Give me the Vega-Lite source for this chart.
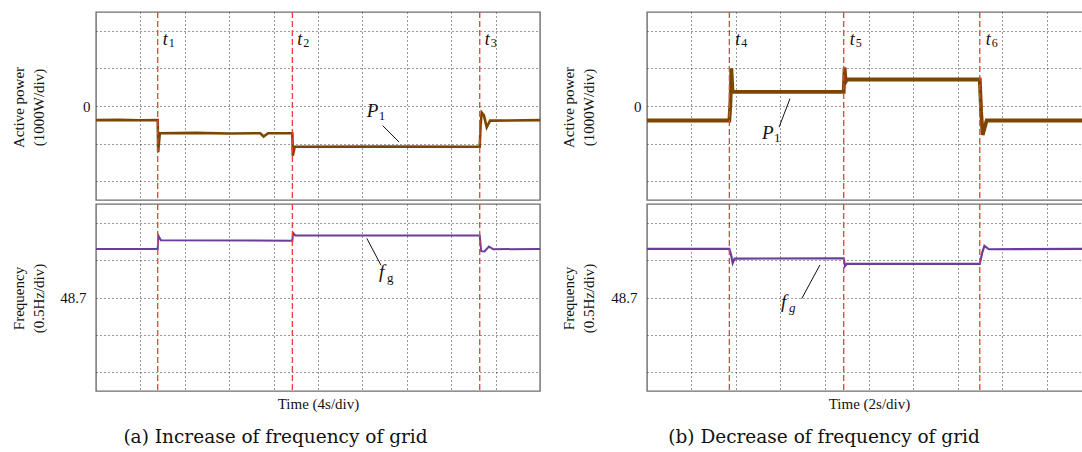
{
"$schema":"https://vega.github.io/schema/vega-lite/v6.json",
"padding":{"left":10,"top":10,"right":0,"bottom":0},
"background":"white",
"spacing":19,
"config":{
  "view":{"stroke":"#6d6d6d","strokeWidth":1.4},
  "font":"Liberation Serif",
  "axis":{"domain":false,"ticks":false,"grid":true,"gridColor":"#333333","gridDash":[1,3],"gridWidth":1,"labelFont":"Liberation Serif","labelFontSize":15,"labelColor":"#111111","titleFont":"Liberation Serif","titleFontSize":15,"titleFontWeight":"normal","titleColor":"#111111"},
  "title":{"font":"DejaVu Serif","fontSize":18.5,"fontWeight":"normal","color":"#111111"},
  "text":{"font":"Liberation Serif","color":"#111111"}
},
"datasets":{
  "pL":[{"t":0,"p":-750},{"t":2,"p":-740},{"t":4,"p":-760},{"t":5.56,"p":-750},{"t":5.6,"p":-2450},{"t":5.75,"p":-1450},{"t":9,"p":-1430},{"t":12,"p":-1460},{"t":14.8,"p":-1450},{"t":15.1,"p":-1620},{"t":15.5,"p":-1450},{"t":17.69,"p":-1450},{"t":17.73,"p":-2640},{"t":17.9,"p":-2170},{"t":26,"p":-2160},{"t":34.57,"p":-2170},{"t":34.65,"p":-1000},{"t":34.75,"p":-350},{"t":34.95,"p":-500},{"t":35.2,"p":-1130},{"t":35.5,"p":-780},{"t":40,"p":-750}],
  "fL":[{"t":0,"f":50.0},{"t":5.56,"f":50.0},{"t":5.62,"f":50.35},{"t":5.85,"f":50.23},{"t":17.69,"f":50.22},{"t":17.75,"f":50.43},{"t":17.95,"f":50.36},{"t":34.57,"f":50.36},{"t":34.7,"f":49.94},{"t":35.0,"f":49.93},{"t":35.4,"f":50.06},{"t":35.8,"f":49.99},{"t":40,"f":50.0}],
  "pR":[{"t":0,"p":-770},{"t":3.71,"p":-770},{"t":3.76,"p":200},{"t":3.8,"p":2000},{"t":3.85,"p":800},{"t":3.9,"p":750},{"t":8.86,"p":750},{"t":8.9,"p":2050},{"t":8.95,"p":1300},{"t":9.0,"p":1410},{"t":14.99,"p":1410},{"t":15.05,"p":-300},{"t":15.12,"p":-1540},{"t":15.3,"p":-770},{"t":19.82,"p":-770}],
  "fR":[{"t":0,"f":50.0},{"t":3.71,"f":50.0},{"t":3.8,"f":49.8},{"t":3.86,"f":49.62},{"t":3.95,"f":49.74},{"t":8.86,"f":49.75},{"t":8.92,"f":49.54},{"t":9.0,"f":49.6},{"t":14.99,"f":49.6},{"t":15.1,"f":49.9},{"t":15.2,"f":50.08},{"t":15.4,"f":49.99},{"t":19.82,"f":50.0}],
  "evL":[{"t":5.56,"n":"1"},{"t":17.69,"n":"2"},{"t":34.57,"n":"3"}],
  "evR":[{"t":3.71,"n":"4"},{"t":8.86,"n":"5"},{"t":14.99,"n":"6"}]
},
"hconcat":[
 {
  "spacing":0,
  "title":{"text":"(a) Increase of frequency of grid","orient":"bottom","anchor":"middle","offset":16},
  "vconcat":[
   {
    "width":444,"height":188,
    "layer":[
     {"data":{"name":"pL"},"mark":{"type":"line","color":"#7d4600","strokeWidth":2.6,"clip":true},
      "encoding":{
        "x":{"field":"t","type":"quantitative","scale":{"domain":[0,40],"nice":false,"zero":false},"axis":{"values":[4,8,12,16,20,24,28,32,36],"labels":false,"title":null}},
        "y":{"field":"p","type":"quantitative","scale":{"domain":[-5000,5000],"nice":false,"zero":false},"axis":{"values":[-4000,-3000,-2000,-1000,0,1000,2000,3000,4000],"labelExpr":"datum.value == 0 ? '0' : ''","labelPadding":6,"title":["Active power","(1000W/div)"],"titleX":-70,"titleY":95,"titleAngle":-90,"titleBaseline":"bottom","titleAlign":"center","titleLineHeight":20}}}},
     {"data":{"name":"evL"},"mark":{"type":"rule","color":"#f03c3c","strokeDash":[6,3],"strokeWidth":1.3},"encoding":{"x":{"field":"t","type":"quantitative"}}},
     {"data":{"name":"evL"},"mark":{"type":"text","text":"t","fontStyle":"italic","fontSize":18,"align":"left","baseline":"alphabetic","dx":5},"encoding":{"x":{"field":"t","type":"quantitative"},"y":{"datum":3250,"type":"quantitative"}}},
     {"data":{"name":"evL"},"mark":{"type":"text","fontSize":12,"align":"left","baseline":"alphabetic","dx":11,"dy":2},"encoding":{"x":{"field":"t","type":"quantitative"},"y":{"datum":3250,"type":"quantitative"},"text":{"field":"n"}}},
     {"data":{"values":[{"t":24.4,"v":-585,"main":"P","sub":"1","t2":25.83,"v2":-1048,"t3":27.3,"v3":-1915}]},
      "layer":[
       {"mark":{"type":"text","fontStyle":"italic","fontSize":19,"align":"left","baseline":"alphabetic"},"encoding":{"x":{"field":"t","type":"quantitative"},"y":{"field":"v","type":"quantitative"},"text":{"field":"main"}}},
       {"mark":{"type":"text","fontSize":13,"align":"left","baseline":"alphabetic","dx":12,"dy":3},"encoding":{"x":{"field":"t","type":"quantitative"},"y":{"field":"v","type":"quantitative"},"text":{"field":"sub"}}},
       {"mark":{"type":"rule","color":"#111111","strokeWidth":1},"encoding":{"x":{"field":"t2","type":"quantitative"},"x2":{"field":"t3"},"y":{"field":"v2","type":"quantitative"},"y2":{"field":"v3"}}}
      ]}
    ]
   },
   {
    "width":444,"height":187,
    "layer":[
     {"data":{"name":"fL"},"mark":{"type":"line","color":"#6a3d9a","strokeWidth":2,"clip":true},
      "encoding":{
        "x":{"field":"t","type":"quantitative","scale":{"domain":[0,40],"nice":false,"zero":false},"axis":{"values":[4,8,12,16,20,24,28,32,36],"labels":false,"title":"Time (4s/div)","titlePadding":5}},
        "y":{"field":"f","type":"quantitative","scale":{"domain":[46.2,51.2],"nice":false,"zero":false},"axis":{"values":[46.7,47.2,47.7,48.2,48.7,49.2,49.7,50.2,50.7],"labelExpr":"abs(datum.value - 48.7) < 0.01 ? '48.7' : ''","labelPadding":10,"title":["Frequency","(0.5Hz/div)"],"titleX":-70,"titleY":94,"titleAngle":-90,"titleBaseline":"bottom","titleAlign":"center","titleLineHeight":20}}}},
     {"data":{"name":"evL"},"mark":{"type":"rule","color":"#f03c3c","strokeDash":[6,3],"strokeWidth":1.3},"encoding":{"x":{"field":"t","type":"quantitative"}}},
     {"data":{"values":[{"t":25.5,"v":49.21,"main":"f","sub":"g","t2":24.4,"v2":50.28,"t3":25.68,"v3":49.56}]},
      "layer":[
       {"mark":{"type":"text","fontStyle":"italic","fontSize":19,"align":"left","baseline":"alphabetic"},"encoding":{"x":{"field":"t","type":"quantitative"},"y":{"field":"v","type":"quantitative"},"text":{"field":"main"}}},
       {"mark":{"type":"text","fontSize":13,"align":"left","baseline":"alphabetic","dx":8,"dy":4},"encoding":{"x":{"field":"t","type":"quantitative"},"y":{"field":"v","type":"quantitative"},"text":{"field":"sub"}}},
       {"mark":{"type":"rule","color":"#111111","strokeWidth":1},"encoding":{"x":{"field":"t2","type":"quantitative"},"x2":{"field":"t3"},"y":{"field":"v2","type":"quantitative"},"y2":{"field":"v3"}}}
      ]}
    ]
   }
  ]
 },
 {
  "spacing":0,
  "title":{"text":"(b) Decrease of frequency of grid","orient":"bottom","anchor":"middle","offset":16},
  "vconcat":[
   {
    "width":440,"height":188,
    "layer":[
     {"data":{"name":"pR"},"mark":{"type":"line","color":"#7d4600","strokeWidth":3.8,"clip":true},
      "encoding":{
        "x":{"field":"t","type":"quantitative","scale":{"domain":[0,19.82],"nice":false,"zero":false},"axis":{"values":[2,4,6,8,10,12,14,16,18],"labels":false,"title":null}},
        "y":{"field":"p","type":"quantitative","scale":{"domain":[-5000,5000],"nice":false,"zero":false},"axis":{"values":[-4000,-3000,-2000,-1000,0,1000,2000,3000,4000],"labelExpr":"datum.value == 0 ? '0' : ''","labelPadding":6,"title":["Active power","(1000W/div)"],"titleX":-71,"titleY":95,"titleAngle":-90,"titleBaseline":"bottom","titleAlign":"center","titleLineHeight":20}}}},
     {"data":{"name":"evR"},"mark":{"type":"rule","color":"#f03c3c","strokeDash":[6,3],"strokeWidth":1.3},"encoding":{"x":{"field":"t","type":"quantitative"}}},
     {"data":{"name":"evR"},"mark":{"type":"text","text":"t","fontStyle":"italic","fontSize":18,"align":"left","baseline":"alphabetic","dx":6},"encoding":{"x":{"field":"t","type":"quantitative"},"y":{"datum":3250,"type":"quantitative"}}},
     {"data":{"name":"evR"},"mark":{"type":"text","fontSize":12,"align":"left","baseline":"alphabetic","dx":12,"dy":2},"encoding":{"x":{"field":"t","type":"quantitative"},"y":{"datum":3250,"type":"quantitative"},"text":{"field":"n"}}},
     {"data":{"values":[{"t":5.18,"v":-1770,"main":"P","sub":"1","t2":5.95,"v2":-1125,"t3":6.44,"v3":391}]},
      "layer":[
       {"mark":{"type":"text","fontStyle":"italic","fontSize":19,"align":"left","baseline":"alphabetic"},"encoding":{"x":{"field":"t","type":"quantitative"},"y":{"field":"v","type":"quantitative"},"text":{"field":"main"}}},
       {"mark":{"type":"text","fontSize":13,"align":"left","baseline":"alphabetic","dx":12,"dy":3},"encoding":{"x":{"field":"t","type":"quantitative"},"y":{"field":"v","type":"quantitative"},"text":{"field":"sub"}}},
       {"mark":{"type":"rule","color":"#111111","strokeWidth":1},"encoding":{"x":{"field":"t2","type":"quantitative"},"x2":{"field":"t3"},"y":{"field":"v2","type":"quantitative"},"y2":{"field":"v3"}}}
      ]}
    ]
   },
   {
    "width":440,"height":187,
    "layer":[
     {"data":{"name":"fR"},"mark":{"type":"line","color":"#6a3d9a","strokeWidth":2.2,"clip":true},
      "encoding":{
        "x":{"field":"t","type":"quantitative","scale":{"domain":[0,19.82],"nice":false,"zero":false},"axis":{"values":[2,4,6,8,10,12,14,16,18],"labels":false,"title":"Time (2s/div)","titlePadding":5,"titleX":222}},
        "y":{"field":"f","type":"quantitative","scale":{"domain":[46.2,51.2],"nice":false,"zero":false},"axis":{"values":[46.7,47.2,47.7,48.2,48.7,49.2,49.7,50.2,50.7],"labelExpr":"abs(datum.value - 48.7) < 0.01 ? '48.7' : ''","labelPadding":10,"title":["Frequency","(0.5Hz/div)"],"titleX":-71,"titleY":94,"titleAngle":-90,"titleBaseline":"bottom","titleAlign":"center","titleLineHeight":20}}}},
     {"data":{"name":"evR"},"mark":{"type":"rule","color":"#f03c3c","strokeDash":[6,3],"strokeWidth":1.3},"encoding":{"x":{"field":"t","type":"quantitative"}}},
     {"data":{"values":[{"t":6.04,"v":48.42,"main":"f","sub":"g","t2":6.97,"v2":48.67,"t3":7.79,"v3":49.57}]},
      "layer":[
       {"mark":{"type":"text","fontStyle":"italic","fontSize":19,"align":"left","baseline":"alphabetic"},"encoding":{"x":{"field":"t","type":"quantitative"},"y":{"field":"v","type":"quantitative"},"text":{"field":"main"}}},
       {"mark":{"type":"text","fontSize":13,"fontStyle":"italic","align":"left","baseline":"alphabetic","dx":8,"dy":4},"encoding":{"x":{"field":"t","type":"quantitative"},"y":{"field":"v","type":"quantitative"},"text":{"field":"sub"}}},
       {"mark":{"type":"rule","color":"#111111","strokeWidth":1},"encoding":{"x":{"field":"t2","type":"quantitative"},"x2":{"field":"t3"},"y":{"field":"v2","type":"quantitative"},"y2":{"field":"v3"}}}
      ]}
    ]
   }
  ]
 }
]
}
